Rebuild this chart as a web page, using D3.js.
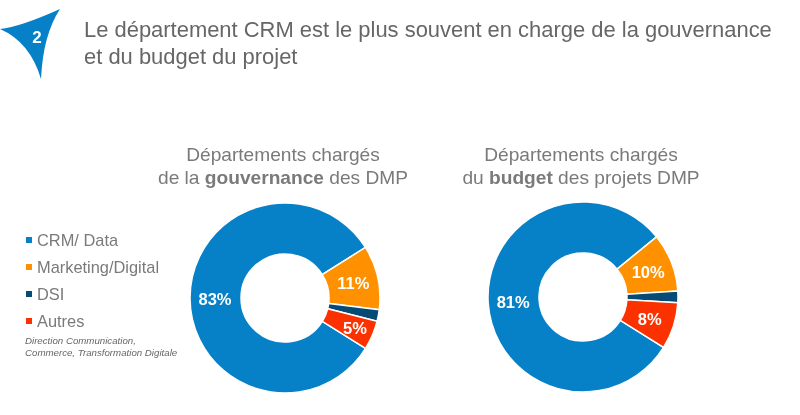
<!doctype html>
<html lang="fr">
<head>
    <meta charset="utf-8">
    <title>Gouvernance et budget DMP</title>
    <script src="https://cdnjs.cloudflare.com/ajax/libs/d3/7.8.5/d3.min.js" type="text/JavaScript"></script>
    <style>
        html, body { margin: 0; padding: 0; background: #fff; }
        svg { display: block; font-family: "Liberation Sans", Arial, sans-serif; filter: blur(0.45px); }
    </style>
</head>
<body>
<script>
    const categories = ["CRM/ Data", "Marketing/Digital", "DSI", "Autres"];
    const gouvernanceValues = [83, 11, 2, 5];
    const budgetValues = [81, 10, 2, 8];
    // labels as printed, the DSI slice has none
    const gouvernanceLabels = ["83%", "11%", "", "5%"];
    const budgetLabels = ["81%", "10%", "", "8%"];
    const colors = ["#0681c8", "#ff9000", "#064a76", "#fb3200"];

    const svg = d3.select("body").append("svg")
        .attr("width", 800)
        .attr("height", 415);

    // Header badge and title
    svg.append("path")
        .attr("d", "M60,9 Q20,27 0,29 Q30,42 41,79 Q43,35 60,9 Z")
        .attr("fill", "#0681c8");
    svg.append("text")
        .attr("x", 37).attr("y", 43)
        .attr("text-anchor", "middle")
        .attr("font-size", 17).attr("font-weight", "bold")
        .attr("fill", "#fff")
        .text("2");

    const title = svg.append("g").attr("fill", "#666").attr("font-size", 21.95);
    title.append("text").attr("x", 84).attr("y", 37)
        .text("Le département CRM est le plus souvent en charge de la gouvernance");
    title.append("text").attr("x", 84).attr("y", 64)
        .text("et du budget du projet");

    // Legend
    const legendY = d3.scalePoint().domain(categories).range([240, 321]);
    const legend = svg.append("g").selectAll("g")
        .data(categories)
        .join("g")
        .attr("transform", d => `translate(26,${legendY(d)})`);
    legend.append("rect")
        .attr("y", -3).attr("width", 6).attr("height", 6)
        .attr("fill", (d, i) => colors[i]);
    legend.append("text")
        .attr("x", 11).attr("dy", "0.35em")
        .attr("font-size", 16.4).attr("fill", "#7a7a7a")
        .text(d => d);

    const note = svg.append("g")
        .attr("font-size", 9.7).attr("font-style", "italic").attr("fill", "#666");
    note.append("text").attr("x", 25).attr("y", 344).text("Direction Communication,");
    note.append("text").attr("x", 25).attr("y", 356).text("Commerce, Transformation Digitale");

    // One donut with its two-line heading
    function donut(cx, cy, values, labels, startDeg, line1, before, bold, after) {
        const start = startDeg * Math.PI / 180;
        const pie = d3.pie().sort(null).startAngle(start).endAngle(start + 2 * Math.PI);
        const arc = d3.arc().innerRadius(44).outerRadius(95);
        // thin slices get their label pushed toward the rim
        const labelRadius = d => d.value <= 5 ? 76 : 70;
        const labelArc = d3.arc().innerRadius(labelRadius).outerRadius(labelRadius);

        const head = svg.append("g")
            .attr("text-anchor", "middle").attr("font-size", 19.15).attr("fill", "#7a7a7a");
        head.append("text").attr("x", cx - 2).attr("y", 161).text(line1);
        const second = head.append("text").attr("x", cx - 2).attr("y", 184);
        second.append("tspan").text(before);
        second.append("tspan").attr("font-weight", "bold").text(bold);
        second.append("tspan").text(after);

        const g = svg.append("g").attr("transform", `translate(${cx},${cy})`);
        const slices = pie(values);
        g.selectAll("path")
            .data(slices)
            .join("path")
            .attr("d", arc)
            .attr("fill", (d, i) => colors[i])
            .attr("stroke", "#fff")
            .attr("stroke-width", 1.5);
        g.selectAll("text")
            .data(slices)
            .join("text")
            .attr("transform", d => `translate(${labelArc.centroid(d)})`)
            .attr("text-anchor", "middle")
            .attr("dy", "0.4em")
            .attr("font-size", 16.5).attr("font-weight", "bold")
            .attr("fill", "#fff")
            .text((d, i) => labels[i]);
    }

    donut(285, 298, gouvernanceValues, gouvernanceLabels, 122,
        "Départements chargés", "de la ", "gouvernance", " des DMP");
    donut(583, 297, budgetValues, budgetLabels, 122,
        "Départements chargés", "du ", "budget", " des projets DMP");
</script>
</body>
</html>
